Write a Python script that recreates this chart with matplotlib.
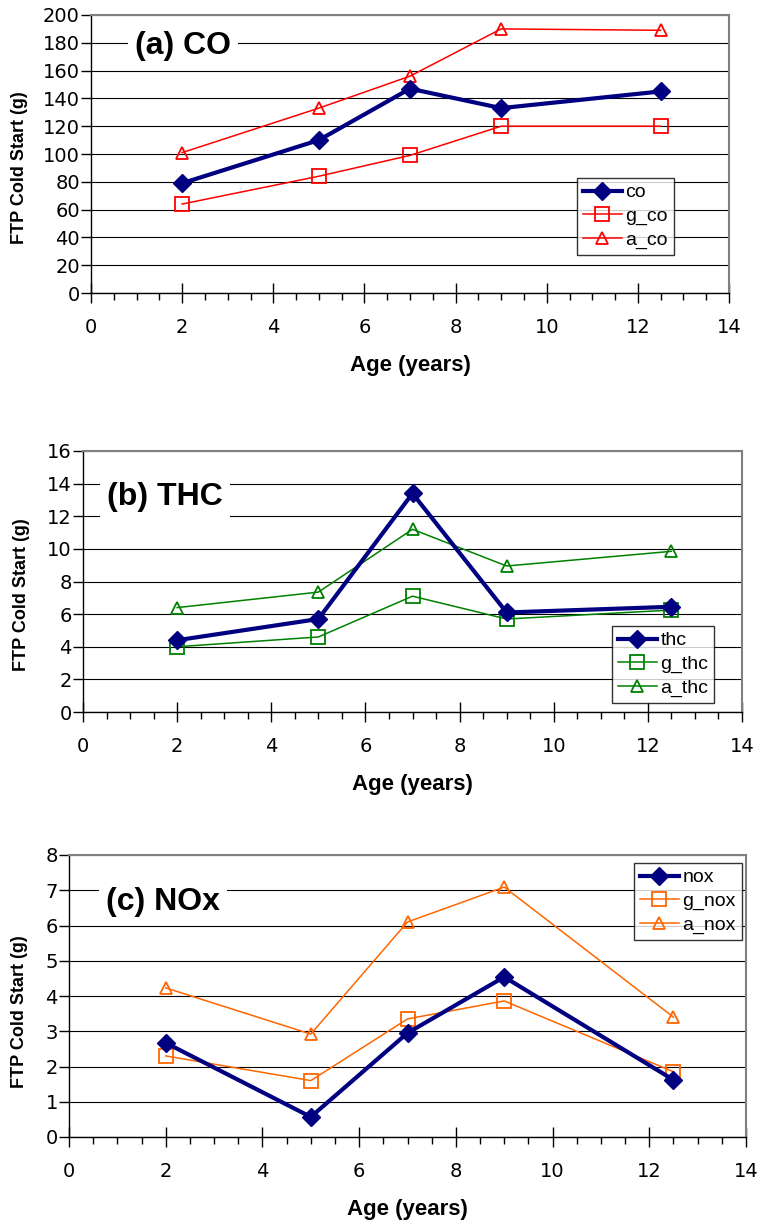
import numpy as np
import matplotlib
matplotlib.use('Agg')
import matplotlib.pyplot as plt
from matplotlib.ticker import MultipleLocator

plt.rcParams['font.family'] = ['Liberation Sans', 'DejaVu Sans']

# ages of the vehicle groups
age = [2, 5, 7, 9, 12.5]

# (a) CO
co = [79, 110, 147, 133, 145]
g_co = [64, 84, 99, 120, 120]
a_co = [101, 133, 156, 190, 189]

# (b) THC
thc = [4.4, 5.7, 13.4, 6.1, 6.45]
g_thc = [4.0, 4.6, 7.1, 5.7, 6.25]
a_thc = [6.4, 7.35, 11.2, 8.95, 9.85]

# (c) NOx
nox = [2.67, 0.57, 2.95, 4.54, 1.62]
g_nox = [2.3, 1.6, 3.35, 3.86, 1.85]
a_nox = [4.23, 2.92, 6.1, 7.09, 3.4]

W, H = 757, 1222
fig = plt.figure(figsize=(W / 100, H / 100), dpi=100)


def px_axes(left, right, top, bottom):
    return fig.add_axes([left / W, 1 - bottom / H, (right - left) / W, (bottom - top) / H])


panels = [
    dict(box=(91, 729, 15, 293), ymax=200, ystep=20, title='(a) CO', color='#FF0000',
         main=co, g=g_co, a=a_co, names=['co', 'g_co', 'a_co'],
         leg=(577, 673, 178, 262), tpos=(135, 46), ylab=(20, 168)),
    dict(box=(83, 742, 451, 712), ymax=16, ystep=2, title='(b) THC', color='#008000',
         main=thc, g=g_thc, a=a_thc, names=['thc', 'g_thc', 'a_thc'],
         leg=(612, 714, 626, 710), tpos=(107, 497), ylab=(22, 595)),
    dict(box=(69, 746, 855, 1137), ymax=8, ystep=1, title='(c) NOx', color='#FF6600',
         main=nox, g=g_nox, a=a_nox, names=['nox', 'g_nox', 'a_nox'],
         leg=(634, 739, 863, 946), tpos=(106, 902), ylab=(20, 1012)),
]

for p in panels:
    ax = px_axes(*p['box'])
    ax.plot(age, p['main'], color='#000080', lw=3, marker='D', ms=9,
            mfc='#000080', mec='#000080', label=p['names'][0], zorder=5)
    ax.plot(age, p['g'], color=p['color'], lw=1.1, marker='s', ms=9.5,
            mfc='none', mec=p['color'], mew=1.3, label=p['names'][1], zorder=4)
    ax.plot(age, p['a'], color=p['color'], lw=1.1, marker='^', ms=8.5,
            mfc='none', mec=p['color'], mew=1.3, label=p['names'][2], zorder=4)

    ax.set_xlim(0, 14)
    ax.set_ylim(0, p['ymax'])
    ax.xaxis.set_major_locator(MultipleLocator(2))
    ax.xaxis.set_minor_locator(MultipleLocator(0.5))
    ax.yaxis.set_major_locator(MultipleLocator(p['ystep']))
    ax.grid(axis='y', color='black', lw=0.8)
    ax.set_axisbelow(True)

    ax.tick_params(axis='x', which='major', direction='inout', length=14, width=1, pad=11)
    ax.tick_params(axis='x', which='minor', direction='out', length=5, width=1)
    ax.tick_params(axis='y', which='major', direction='out', length=7, width=1, pad=1)
    for lab in ax.get_xticklabels() + ax.get_yticklabels():
        lab.set_fontfamily('DejaVu Sans')
        lab.set_fontsize(14)
    for s in ['top', 'right']:
        ax.spines[s].set_color('#808080')
        ax.spines[s].set_linewidth(1.5)
    for s in ['left', 'bottom']:
        ax.spines[s].set_color('black')
        ax.spines[s].set_linewidth(1)

    ax.set_xlabel('Age (years)', fontsize=16, fontweight='bold', labelpad=13)
    ax.set_ylabel('FTP Cold Start (g)', fontsize=13, fontweight='bold', va='center')
    l, r, t, b = p['box']
    ax.yaxis.set_label_coords((p['ylab'][0] - l) / (r - l), (b - p['ylab'][1]) / (b - t))

    fig.text(p['tpos'][0] / W, 1 - p['tpos'][1] / H, p['title'],
             fontsize=23, fontweight='bold', va='center', ha='left', zorder=6,
             bbox=dict(facecolor='white', edgecolor='none', pad=5))

    l, r, t, b = p['leg']
    bb = ax.transAxes.inverted().transform(fig.transFigure.transform(
        [(l / W, 1 - b / H), (r / W, 1 - t / H)]))
    leg = ax.legend(loc='upper left', bbox_to_anchor=(bb[0][0], bb[1][1]),
                    fontsize=14, frameon=True, fancybox=False, borderpad=0.3,
                    labelspacing=0.3, handlelength=2.0, handletextpad=0.2,
                    borderaxespad=0)
    leg.get_frame().set_edgecolor('black')
    leg.get_frame().set_linewidth(1)

fig.savefig('out.png', dpi=100)
